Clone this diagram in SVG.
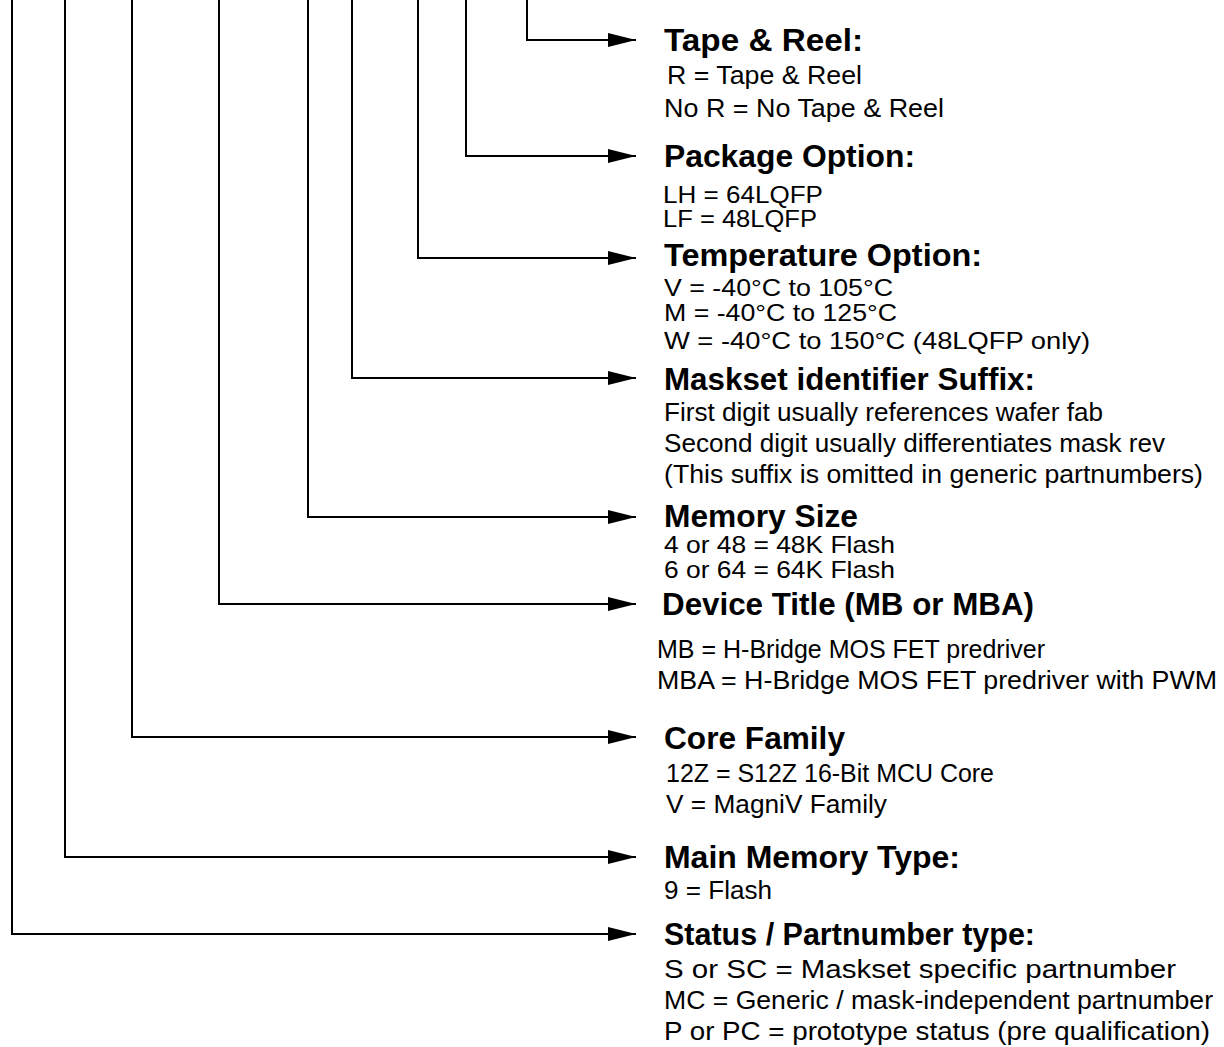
<svg xmlns="http://www.w3.org/2000/svg" width="1224" height="1047" viewBox="0 0 1224 1047">
<style>
.c{fill:none;stroke:#000;stroke-width:2}
.h{font-family:"Liberation Sans",Arial,sans-serif;font-weight:bold;font-size:31px;fill:#000}
.t{font-family:"Liberation Sans",Arial,sans-serif;font-size:25px;fill:#000}
.s{font-family:"Liberation Sans",Arial,sans-serif;font-size:24px;fill:#000}
</style>
<defs>
<marker id="ah" markerUnits="userSpaceOnUse" markerWidth="30" markerHeight="16" refX="28" refY="7" orient="auto">
<path d="M0,0 L28,7 L0,14 Z" fill="#000"/>
</marker>
</defs>
<rect width="1224" height="1047" fill="#fff"/>
<g id="connectors">
<path class="c" d="M527,0 V40 H636" marker-end="url(#ah)"/>
<path class="c" d="M466,0 V156 H636" marker-end="url(#ah)"/>
<path class="c" d="M418,0 V258 H636" marker-end="url(#ah)"/>
<path class="c" d="M352,0 V378 H636" marker-end="url(#ah)"/>
<path class="c" d="M308,0 V517 H636" marker-end="url(#ah)"/>
<path class="c" d="M219,0 V604 H636" marker-end="url(#ah)"/>
<path class="c" d="M132,0 V737 H636" marker-end="url(#ah)"/>
<path class="c" d="M65,0 V857 H636" marker-end="url(#ah)"/>
<path class="c" d="M12,0 V934 H636" marker-end="url(#ah)"/>
</g>
<g id="tape-reel">
<text class="h" x="664" y="51" textLength="199" lengthAdjust="spacingAndGlyphs">Tape &amp; Reel:</text>
<text class="t" x="667" y="84" textLength="195" lengthAdjust="spacingAndGlyphs">R = Tape &amp; Reel</text>
<text class="t" x="664" y="117" textLength="280" lengthAdjust="spacingAndGlyphs">No R = No Tape &amp; Reel</text>
</g>
<g id="package-option">
<text class="h" x="664" y="167" textLength="251" lengthAdjust="spacingAndGlyphs">Package Option:</text>
<text class="s" x="663" y="203" textLength="160" lengthAdjust="spacingAndGlyphs">LH = 64LQFP</text>
<text class="s" x="663" y="227" textLength="154" lengthAdjust="spacingAndGlyphs">LF = 48LQFP</text>
</g>
<g id="temperature-option">
<text class="h" x="664" y="266" textLength="318" lengthAdjust="spacingAndGlyphs">Temperature Option:</text>
<text class="s" x="664" y="296" textLength="229" lengthAdjust="spacingAndGlyphs">V = -40°C to 105°C</text>
<text class="s" x="664" y="321" textLength="233" lengthAdjust="spacingAndGlyphs">M = -40°C to 125°C</text>
<text class="s" x="664" y="349" textLength="426" lengthAdjust="spacingAndGlyphs">W = -40°C to 150°C (48LQFP only)</text>
</g>
<g id="maskset-suffix">
<text class="h" x="664" y="390" textLength="371" lengthAdjust="spacingAndGlyphs">Maskset identifier Suffix:</text>
<text class="t" x="664" y="421" textLength="439" lengthAdjust="spacingAndGlyphs">First digit usually references wafer fab</text>
<text class="t" x="664" y="452" textLength="501" lengthAdjust="spacingAndGlyphs">Second digit usually differentiates mask rev</text>
<text class="t" x="664" y="483" textLength="539" lengthAdjust="spacingAndGlyphs">(This suffix is omitted in generic partnumbers)</text>
</g>
<g id="memory-size">
<text class="h" x="664" y="527" textLength="194" lengthAdjust="spacingAndGlyphs">Memory Size</text>
<text class="s" x="664" y="553" textLength="231" lengthAdjust="spacingAndGlyphs">4 or 48 = 48K Flash</text>
<text class="s" x="664" y="578" textLength="231" lengthAdjust="spacingAndGlyphs">6 or 64 = 64K Flash</text>
</g>
<g id="device-title">
<text class="h" x="662" y="615" textLength="372" lengthAdjust="spacingAndGlyphs">Device Title (MB or MBA)</text>
<text class="t" x="657" y="658" textLength="388" lengthAdjust="spacingAndGlyphs">MB = H-Bridge MOS FET predriver</text>
<text class="t" x="657" y="689" textLength="560" lengthAdjust="spacingAndGlyphs">MBA = H-Bridge MOS FET predriver with PWM</text>
</g>
<g id="core-family">
<text class="h" x="664" y="749" textLength="181" lengthAdjust="spacingAndGlyphs">Core Family</text>
<text class="t" x="666" y="782" textLength="328" lengthAdjust="spacingAndGlyphs">12Z = S12Z 16-Bit MCU Core</text>
<text class="t" x="666" y="813" textLength="221" lengthAdjust="spacingAndGlyphs">V = MagniV Family</text>
</g>
<g id="main-memory-type">
<text class="h" x="664" y="868" textLength="296" lengthAdjust="spacingAndGlyphs">Main Memory Type:</text>
<text class="t" x="664" y="899" textLength="108" lengthAdjust="spacingAndGlyphs">9 = Flash</text>
</g>
<g id="status-partnumber">
<text class="h" x="664" y="945" textLength="371" lengthAdjust="spacingAndGlyphs">Status / Partnumber type:</text>
<text class="t" x="664" y="978" textLength="512" lengthAdjust="spacingAndGlyphs">S or SC = Maskset specific partnumber</text>
<text class="t" x="664" y="1009" textLength="549" lengthAdjust="spacingAndGlyphs">MC = Generic / mask-independent partnumber</text>
<text class="t" x="664" y="1040" textLength="546" lengthAdjust="spacingAndGlyphs">P or PC = prototype status (pre qualification)</text>
</g>
</svg>
